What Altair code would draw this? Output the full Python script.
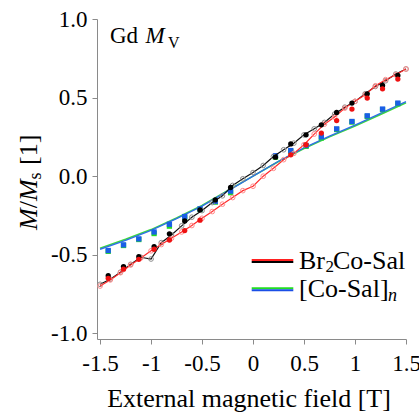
import altair as alt
import pandas as pd

# ---- data -------------------------------------------------------------
line_field = [-1.5, -1.4, -1.3, -1.2, -1.1, -1.0, -0.9, -0.8, -0.7, -0.6, -0.5,
              -0.4, -0.3, -0.2, -0.1, 0.0, 0.1, 0.2, 0.3, 0.4, 0.5,
              0.6, 0.7, 0.8, 0.9, 1.0, 1.1, 1.2, 1.3, 1.4, 1.5]
black_line = [-0.688, -0.656, -0.611, -0.561, -0.516, -0.527, -0.423, -0.374, -0.316, -0.261, -0.219,
              -0.168, -0.125, -0.059, -0.017, 0.023, 0.068, 0.125, 0.168, 0.210, 0.263,
              0.301, 0.342, 0.395, 0.439, 0.476, 0.524, 0.571, 0.607, 0.650, 0.682]
red_line = [-0.699, -0.660, -0.614, -0.565, -0.520, -0.475, -0.435, -0.395, -0.355, -0.314, -0.268,
            -0.225, -0.178, -0.136, -0.092, -0.064, 0.000, 0.050, 0.105, 0.145, 0.200,
            0.268, 0.331, 0.376, 0.433, 0.476, 0.518, 0.575, 0.614, 0.645, 0.682]

smooth_field = [-1.5, -1.25, -1.0, -0.75, -0.5, -0.25, 0.0, 0.25, 0.5, 0.75, 1.0, 1.25, 1.5]
blue_line = [-0.465, -0.408, -0.345, -0.270, -0.190, -0.095, 0.0, 0.095, 0.180, 0.255, 0.325, 0.400, 0.475]
green_line = [-0.458, -0.402, -0.340, -0.266, -0.187, -0.093, 0.0, 0.093, 0.176, 0.250, 0.319, 0.393, 0.467]

dot_field = [-1.42, -1.27, -1.12, -0.97, -0.82, -0.67, -0.52, -0.37, -0.22,
             0.22, 0.37, 0.52, 0.67, 0.82, 0.97, 1.12, 1.27, 1.42]
black_dots = [-0.633, -0.575, -0.512, -0.448, -0.367, -0.285, -0.214, -0.151, -0.072,
              0.121, 0.205, 0.263, 0.327, 0.405, 0.465, 0.524, 0.577, 0.641]
blue_squares = [-0.473, -0.437, -0.399, -0.355, -0.306, -0.257, -0.208, -0.161, -0.095,
                0.130, 0.163, 0.195, 0.250, 0.301, 0.348, 0.384, 0.427, 0.465]
green_squares = [-0.478, -0.441, -0.403, -0.365, -0.318, -0.262, -0.212, -0.165, -0.105,
                 0.121, 0.158, 0.190, 0.243, 0.297, 0.344, 0.380, 0.423, 0.461]

red_dot_field = [-1.42, -1.27, -1.12, -0.97, -0.82, -0.67, -0.52,
                 0.37, 0.52, 0.67, 0.82, 0.97, 1.12, 1.27, 1.42]
red_dots = [-0.650, -0.592, -0.529, -0.465, -0.406, -0.346, -0.280,
            0.136, 0.200, 0.274, 0.354, 0.427, 0.497, 0.556, 0.618]

x_ticks = [-1.5, -1.0, -0.5, 0.0, 0.5, 1.0, 1.5]
y_ticks = [-1.0, -0.5, 0.0, 0.5, 1.0]

# ---- styling ----------------------------------------------------------
SERIF = "Liberation Serif"
AX = "#8a8a8a"
xs = alt.Scale(domain=[-1.53, 1.5], nice=False, zero=False)
ys = alt.Scale(domain=[-1.036, 1.0], nice=False, zero=False)

xenc = alt.X("x:Q", scale=xs, axis=alt.Axis(
    values=x_ticks, title=None, grid=False, labelFont=SERIF, labelFontSize=23,
    labelColor="black", tickColor=AX, domainColor=AX, tickSize=5, labelPadding=8,
    labelExpr="replace(toString(datum.value), '\u2212', '-')", labelFlush=False))
yenc = alt.Y("y:Q", scale=ys, axis=alt.Axis(
    values=y_ticks, title=None, grid=False, labelFont=SERIF, labelFontSize=23,
    labelColor="black", tickColor=AX, domainColor=AX, tickSize=5, labelPadding=5,
    labelExpr="replace(format(datum.value, '.1f'), '\u2212', '-')", labelFlush=False))


def df(xv, yv):
    return pd.DataFrame({"x": xv, "y": yv})


def line(xv, yv, color, width):
    return alt.Chart(df(xv, yv)).mark_line(color=color, strokeWidth=width).encode(x=xenc, y=yenc)


def pts(xv, yv, shape, color, size, filled=True, sw=1):
    return alt.Chart(df(xv, yv)).mark_point(
        shape=shape, color=color, size=size, filled=filled, opacity=1, strokeWidth=sw
    ).encode(x=xenc, y=yenc)


one = alt.InlineData(values=[{"a": 1}])


def txt(s, x, y, size, italic=False, angle=0, align="left"):
    kw = dict(text=s, font=SERIF, fontSize=size, color="black", align=align,
              baseline="alphabetic", angle=angle)
    if italic:
        kw["fontStyle"] = "italic"
    return alt.Chart(one).mark_text(**kw).encode(x=alt.value(x), y=alt.value(y))


def swatch(x1, x2, y, color):
    return alt.Chart(one).mark_rule(color=color, strokeWidth=2).encode(
        x=alt.value(x1), x2=alt.value(x2), y=alt.value(y))


layers = [
    line(smooth_field, green_line, "#3cd83c", 1.6),
    line(smooth_field, blue_line, "#2f6fe8", 1.4),
    pts(dot_field, green_squares, "square", "#22dd22", 28),
    pts(dot_field, blue_squares, "square", "#1a5ee6", 28),
    line(line_field, black_line, "#111111", 1.2),
    pts(line_field, black_line, "circle", "#8c8c8c", 22, filled=False, sw=1),
    line(line_field, red_line, "#ff2a2a", 1.2),
    pts(line_field, red_line, "circle", "#ff8a8a", 22, filled=False, sw=1),
    pts(dot_field, black_dots, "circle", "#000000", 28),
    pts(red_dot_field, red_dots, "circle", "#ee1111", 28),
    # panel label
    txt("Gd", 13, 24.3, 23),
    txt("M", 48.5, 24.3, 23, italic=True),
    txt("V", 71, 29, 16),
    # legend
    swatch(154.7, 196.3, 241, "#ff2020"),
    swatch(154.7, 196.3, 243, "#000000"),
    swatch(154.7, 196.3, 269.3, "#22dd22"),
    swatch(154.7, 196.3, 271.3, "#1a4ee6"),
    txt("Br", 202, 250.3, 26),
    txt("2", 228.5, 253, 17),
    txt("Co-Sal", 236, 250.3, 26),
    txt("[Co-Sal]", 202, 278.3, 26),
    txt("n", 291, 282, 18, italic=True),
    # axis titles
    txt("External magnetic field [T]", 152, 388, 26, align="center"),
    txt("M", -60, 211, 26, italic=True, angle=270),
    txt("/", -60, 189.3, 26, angle=270),
    txt("M", -60, 182.1, 26, italic=True, angle=270),
    txt("s", -56, 160.4, 18, angle=270),
    txt("[1]", -60, 146, 26, angle=270),
]

chart = alt.layer(*layers).properties(
    width=309, height=320,
    autosize=alt.AutoSizeParams(type="none"),
    padding={"left": 97, "top": 19, "right": 13, "bottom": 75},
    background="white",
).configure_view(stroke=None)

chart.save("out.html", embed_options={"renderer": "svg", "actions": False})
